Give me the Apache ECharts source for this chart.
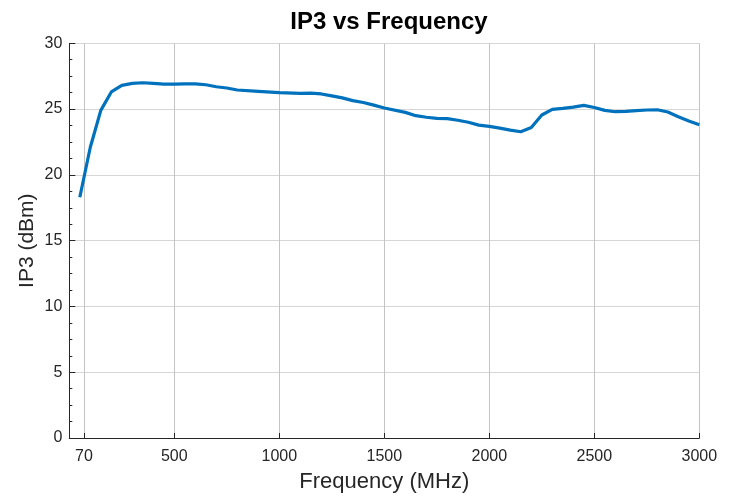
<!DOCTYPE html>
<html>
<head>
<meta charset="utf-8">
<script src="https://cdn.jsdelivr.net/npm/echarts@6/dist/echarts.min.js"></script>
<style>html,body{margin:0;padding:0;background:#fff}#c{width:735px;height:502px}</style>
</head>
<body>
<div id="c"></div>
<script>
const freq = [50,100,150,200,250,300,350,400,450,500,550,600,650,700,750,800,900,1000,1100,1150,1200,1250,1300,1350,1400,1450,1500,1600,1650,1700,1750,1800,1850,1900,1950,2000,2050,2100,2150,2200,2250,2300,2350,2400,2450,2500,2550,2600,2650,2700,2750,2800,2850,2900,2950,3000];
const ip3 = [18.3,22.1,24.9,26.3,26.8,26.95,27.0,26.95,26.9,26.9,26.92,26.92,26.85,26.7,26.6,26.45,26.35,26.25,26.2,26.22,26.15,26.0,25.85,25.64,25.5,25.3,25.08,24.75,24.5,24.38,24.3,24.27,24.15,24.0,23.78,23.68,23.55,23.4,23.28,23.6,24.55,24.98,25.05,25.15,25.28,25.12,24.9,24.8,24.82,24.88,24.93,24.95,24.78,24.42,24.1,23.8];
const xTicks = [70,500,1000,1500,2000,2500,3000];
const yTicks = [0,5,10,15,20,25,30];
const FONT = 'Liberation Sans, Arial, Helvetica, sans-serif';
const chart = echarts.init(document.getElementById('c'), null, {renderer:'canvas'});
chart.setOption({
  animation:false,
  backgroundColor:'#ffffff',
  title:{text:'IP3 vs Frequency', left:384, top:5, textAlign:'center',
    textStyle:{fontFamily:FONT, fontSize:24, fontWeight:'bold', color:'#000'}},
  grid:{left:69.3, right:35.7, top:43.3, bottom:64, containLabel:false},
  xAxis:{type:'value', min:0, max:3000,
    name:'Frequency (MHz)', nameLocation:'middle', nameGap:33,
    nameTextStyle:{fontFamily:FONT, fontSize:22, color:'#262626'},
    axisLine:{show:true, lineStyle:{color:'#262626', width:1}},
    axisTick:{show:true, inside:true, length:5, customValues:xTicks, lineStyle:{color:'#262626'}},
    axisLabel:{customValues:xTicks, fontFamily:FONT, fontSize:16, color:'#262626', margin:11,
      formatter:v=>String(v)},
    splitLine:{show:true, lineStyle:{color:'#c4c4c4', width:1}}
  },
  yAxis:{type:'value', min:0, max:30, interval:5,
    name:'IP3 (dBm)', nameLocation:'middle', nameGap:32, nameRotate:90, nameMoveOverlap:false,
    nameTextStyle:{fontFamily:FONT, fontSize:21, color:'#262626'},
    axisLine:{show:true, lineStyle:{color:'#262626', width:1}},
    axisTick:{show:true, inside:true, length:6, lineStyle:{color:'#262626'}},
    minorTick:{show:true, splitNumber:4, length:3, lineStyle:{color:'#262626'}},
    axisLabel:{fontFamily:FONT, fontSize:16, color:'#262626', margin:7,
      formatter:v=>yTicks.includes(v)?String(v):''},
    splitLine:{show:true, lineStyle:{color:'#d6d6d6', width:1}}
  },
  series:[{type:'line', data:freq.map((f,i)=>[f,ip3[i]]), showSymbol:false,
    lineStyle:{color:'#0072BD', width:3.2}, itemStyle:{color:'#0072BD'}, smooth:false}]
});
</script>
</body>
</html>
